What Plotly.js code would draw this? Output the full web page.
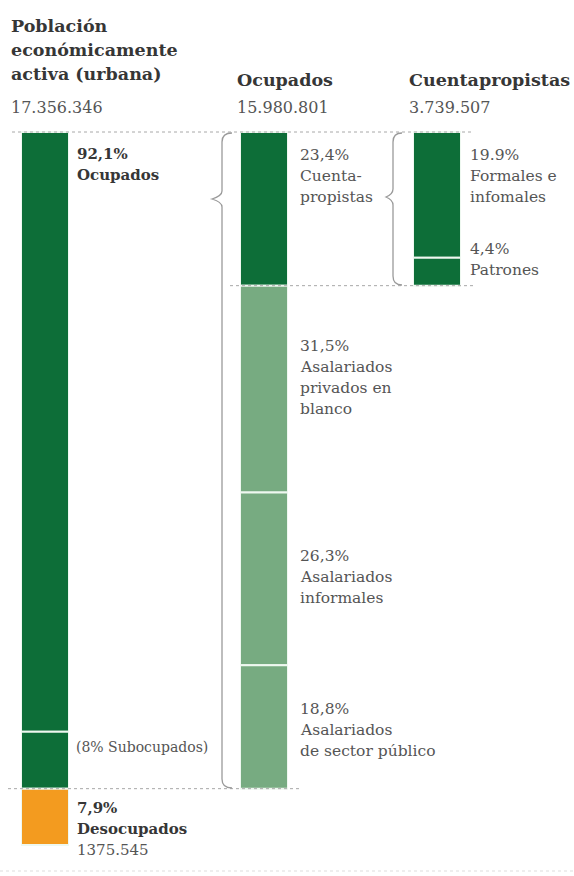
<!DOCTYPE html>
<html>
<head>
<meta charset="utf-8">
<script src="https://cdn.plot.ly/plotly-3.0.1.min.js"></script>
<style>html,body{margin:0;padding:0;background:#fff;}#chart{width:574px;height:876px;}</style>
</head>
<body>
<div id="chart"></div>
<script>
// ---------- DATA ----------
const colHeaders = [["Población", "económicamente", "activa (urbana)"], ["Ocupados"], ["Cuentapropistas"]];
const colTotals = ["17.356.346", "15.980.801", "3.739.507"];

// Column 1: Población económicamente activa (% of PEA)
const peaNames = ["Ocupados", "Subocupados", "Desocupados"];
const peaPct = [92.1, 8, 7.9];          // ocupados (incl. subocupados), subocupados, desocupados
const peaPctText = ["92,1%", "8%", "7,9%"];
const desocupadosTotal = "1375.545";

// Column 2: Ocupados (% of ocupados)
const ocupLabels = [["Cuenta-", "propistas"], ["Asalariados", "privados en", "blanco"], ["Asalariados", "informales"], ["Asalariados", "de sector público"]];
const ocupPct = [23.4, 31.5, 26.3, 18.8];
const ocupPctText = ["23,4%", "31,5%", "26,3%", "18,8%"];

// Column 3: Cuentapropistas (% of ocupados)
const cuentaLabels = [["Formales e", "infomales"], ["Patrones"]];
const cuentaPct = [19.9, 4.4];
const cuentaPctText = ["19.9%", "4,4%"];

// ---------- STYLE / LAYOUT ----------
const W = 574, H = 876;
const DARK = "#0d6e38", LIGHT = "#77ab81", ORANGE = "#f39b1f";
const SEP = "#eef8f0";
const FONT = "DejaVu Serif, serif";
const TXT = "#555555", BOLD = "#363636";
const TOP_PX = 132, BOT_PX = 845;            // pixel extent of the 100% column
const pxPerUnit = (BOT_PX - TOP_PX) / 100;
const yTop = -TOP_PX / pxPerUnit, yBot = (H - TOP_PX) / pxPerUnit;

function cum(arr) { const b = []; let s = 0; arr.forEach(v => { b.push(s); s += v; }); return b; }

// column 1 segments (PEA units)
const col1Vals = [peaPct[0] - peaPct[1], peaPct[1], peaPct[2]];
const col1Colors = [DARK, DARK, ORANGE];
// column 2 segments scaled to ocupados share of PEA
const occShare = peaPct[0] / 100;
const col2Vals = ocupPct.map(v => v * occShare);
const col2Colors = [DARK, LIGHT, LIGHT, LIGHT];
// column 3 scaled to the cuentapropistas segment
const cpSize = col2Vals[0];
const cSum = cuentaPct.reduce((a, b) => a + b, 0);
const col3Vals = cuentaPct.map(v => v / cSum * cpSize);

function barTrace(vals, colors, xa, name) {
  return {
    type: "bar", x: vals.map(() => name), y: vals, base: cum(vals),
    marker: { color: colors, line: { color: SEP, width: 2 } },
    xaxis: xa, yaxis: "y", hoverinfo: "skip", showlegend: false
  };
}
const traces = [
  barTrace(col1Vals, col1Colors, "x", "pea"),
  barTrace(col2Vals, col2Colors, "x2", "ocu"),
  barTrace(col3Vals, [DARK, DARK], "x3", "cp")
];

const px = x => x / W, py = y => 1 - y / H;
const ann = [];
function addLines(lines, x, y0, opts) {
  lines.forEach((t, i) => {
    const o = (opts && opts[i]) || {};
    ann.push({
      xref: "paper", yref: "paper", x: px(x), y: py(y0 + i * (o.step || 21)),
      xanchor: "left", yanchor: "middle", showarrow: false, text: t,
      font: { family: FONT, size: o.size || 15.5, color: o.color || TXT, weight: o.weight || "normal" }
    });
  });
}
const hb = { size: 17.5, color: BOLD, weight: "bold", step: 24 };
// headers
addLines(colHeaders[0], 9, 26, [hb, hb, hb]);
addLines(colHeaders[1], 235, 80, [hb]);
addLines(colHeaders[2], 407, 80, [hb]);
addLines([colTotals[0]], 9, 107, [{ size: 16 }]);
addLines([colTotals[1]], 235, 107, [{ size: 16 }]);
addLines([colTotals[2]], 407, 107, [{ size: 16 }]);
// column 1 labels
const b15 = { size: 15, color: BOLD, weight: "bold" };
addLines([peaPctText[0], peaNames[0]], 75, 154, [b15, b15]);
addLines(["(" + peaPctText[1] + " " + peaNames[1] + ")"], 74, 747, [{ size: 14 }]);
addLines([peaPctText[2], peaNames[2], desocupadosTotal], 75, 808, [b15, b15, { size: 15 }]);
// column 2 labels
const c2y = [155, 346, 556, 709];
ocupLabels.forEach((l, i) => addLines([ocupPctText[i]].concat(l), 298, c2y[i]));
// column 3 labels
const c3y = [155, 249];
cuentaLabels.forEach((l, i) => addLines([cuentaPctText[i]].concat(l), 468, c3y[i]));

// shapes: dotted guide lines at data levels + braces
const dot = { color: "#a8a8a8", width: 1, dash: "dot" };
const shapes = [
  { type: "line", xref: "paper", yref: "y", x0: px(12), x1: px(472), y0: 0, y1: 0, line: dot },
  { type: "line", xref: "paper", yref: "y", x0: px(230), x1: px(474), y0: cpSize, y1: cpSize, line: dot },
  { type: "line", xref: "paper", yref: "y", x0: px(8), x1: px(302), y0: peaPct[0], y1: peaPct[0], line: dot },
  { type: "line", xref: "paper", yref: "paper", x0: 0, x1: 1, y0: py(871), y1: py(871), line: { color: "#dddddd", width: 1, dash: "dot" } }
];
function P(x, y) { return px(x).toFixed(5) + "," + py(y).toFixed(5); }
function brace(xv, xr, xp, yt, ym, yb) {
  return "M" + P(xr, yt) + " Q" + P(xv, yt) + " " + P(xv, yt + 9) +
    " L" + P(xv, ym - 8) + " Q" + P(xv, ym - 3) + " " + P(xp, ym) +
    " Q" + P(xv, ym + 3) + " " + P(xv, ym + 8) +
    " L" + P(xv, yb - 9) + " Q" + P(xv, yb) + " " + P(xr, yb);
}
const bl = { color: "#9a9a9a", width: 1.3 };
shapes.push({ type: "path", xref: "paper", yref: "paper", path: brace(222, 232, 212, 133, 199, 788), line: bl });
shapes.push({ type: "path", xref: "paper", yref: "paper", path: brace(393, 402, 386, 133, 197, 285), line: bl });

const hidden = { visible: false, fixedrange: true };
const layout = {
  width: W, height: H, margin: { l: 0, r: 0, t: 0, b: 0 },
  paper_bgcolor: "#ffffff", plot_bgcolor: "rgba(0,0,0,0)",
  barmode: "overlay", bargap: 0, showlegend: false,
  xaxis: Object.assign({ domain: [px(21), px(69)], anchor: "y", type: "category" }, hidden),
  xaxis2: Object.assign({ domain: [px(240), px(288)], anchor: "y", type: "category" }, hidden),
  xaxis3: Object.assign({ domain: [px(413), px(461)], anchor: "y", type: "category" }, hidden),
  yaxis: Object.assign({ domain: [0, 1], range: [yBot, yTop], anchor: "x" }, hidden),
  annotations: ann, shapes: shapes
};
Plotly.newPlot("chart", traces, layout, { staticPlot: true, displayModeBar: false });
</script>
</body>
</html>
